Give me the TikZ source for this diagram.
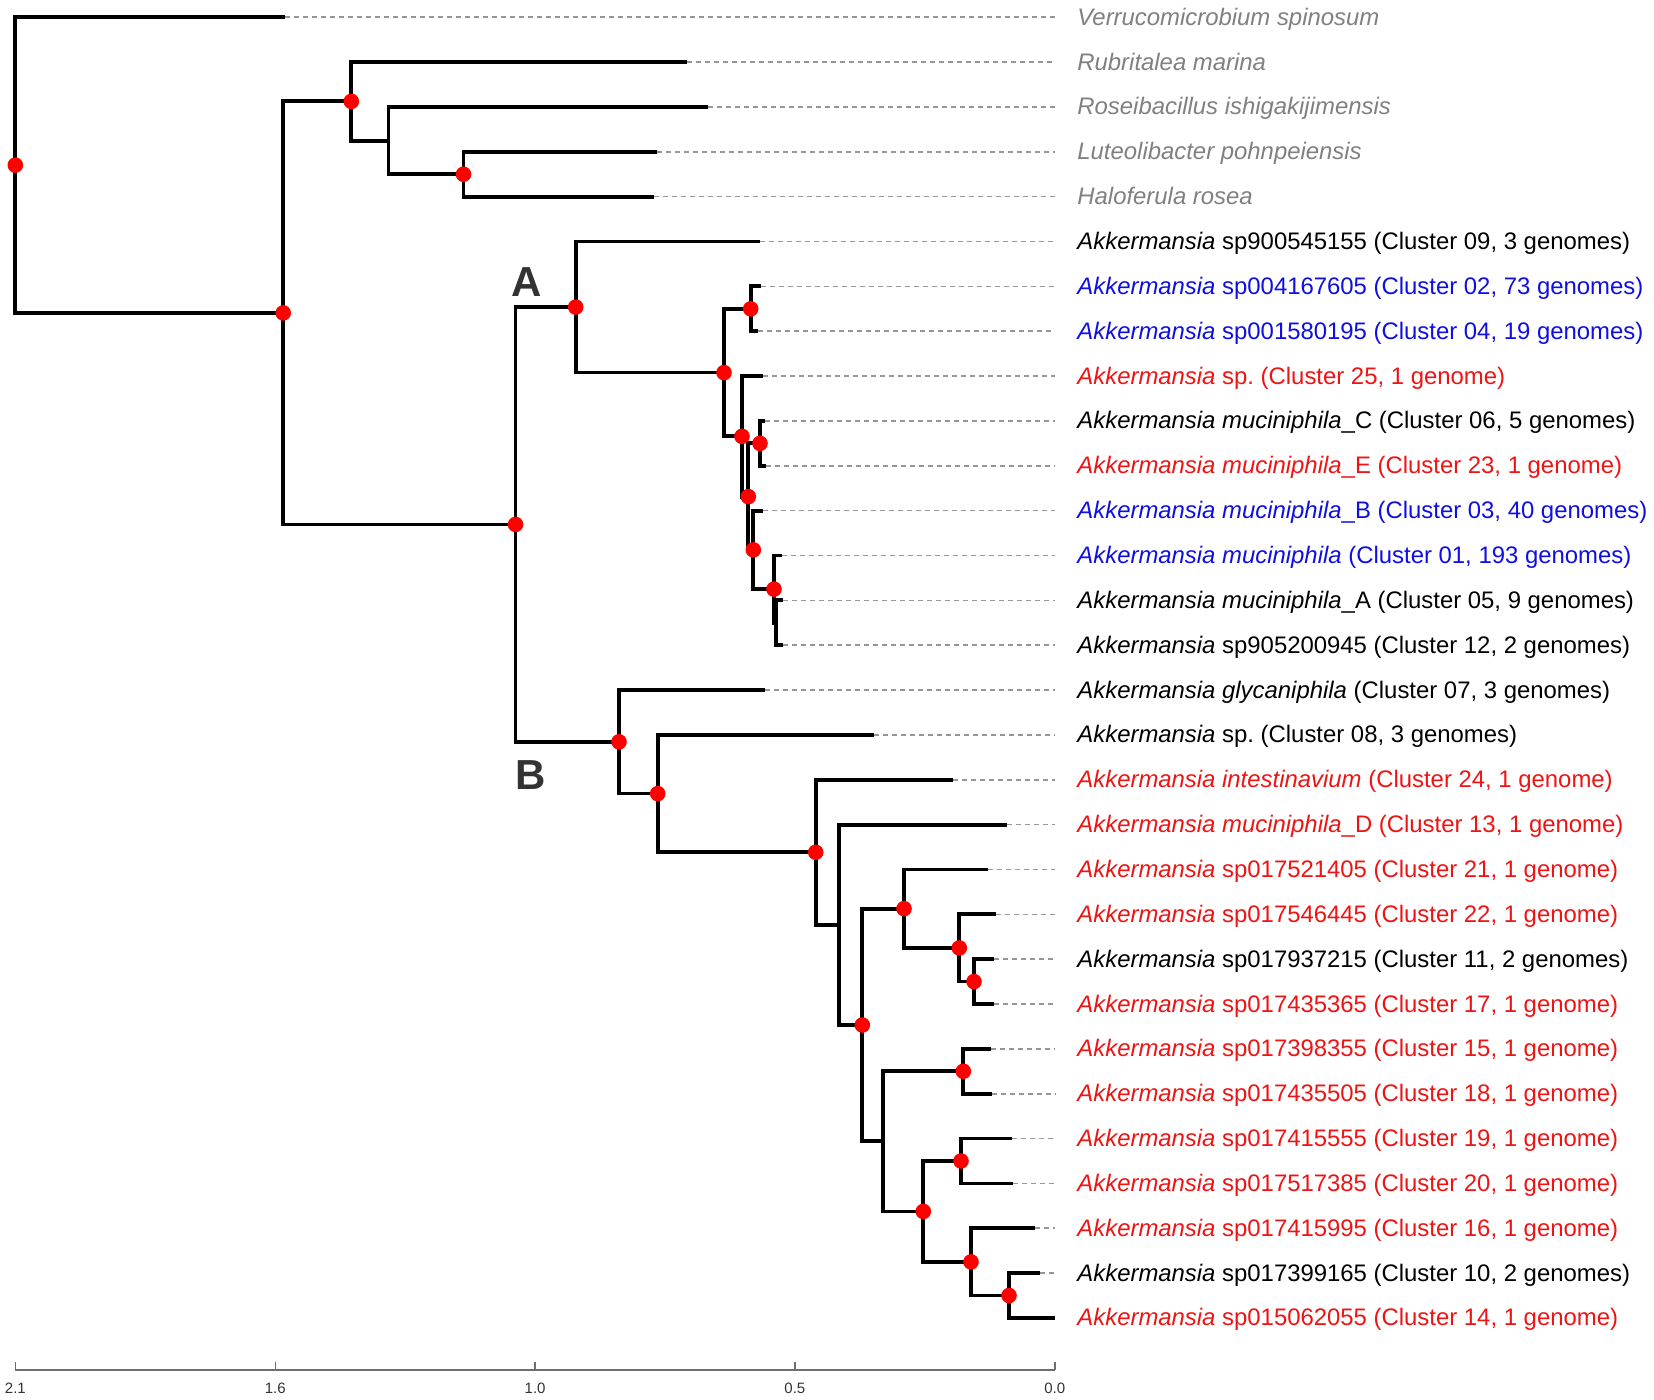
\documentclass[tikz,border=0pt]{standalone}
\usepackage{fontspec}
\setmainfont{Liberation Sans}
\frenchspacing
\definecolor{outg}{RGB}{128,128,128}
\definecolor{bl}{RGB}{15,15,225}
\definecolor{rd}{RGB}{238,20,20}
\definecolor{dashc}{RGB}{150,150,150}
\definecolor{abc}{RGB}{51,51,51}
\definecolor{axc}{RGB}{110,110,110}
\begin{document}
\begin{tikzpicture}[x=0.5pt,y=-0.5pt,
  branch/.style={line width=1.9pt, black, line join=miter},
  dashl/.style={dashc, line width=0.8pt, dash pattern=on 2.5pt off 2pt},
  dot/.style={circle, fill=red, draw=none, inner sep=0pt, minimum size=7.8pt},
  lab/.style={anchor=base west, inner sep=0pt, font=\fontsize{11.95}{14}\selectfont},
  cladelab/.style={font=\fontsize{21}{21}\bfseries\selectfont, text=abc, inner sep=0pt},
  ticklab/.style={font=\fontsize{7.5}{8}\selectfont, text=abc, inner sep=0pt},
  axisline/.style={axc, line width=0.75pt}]
\useasboundingbox (0,0) rectangle (1654,1400);

% leaves
\coordinate (l0) at (285.1,17.3);
\coordinate (l1) at (686.7,62.15);
\coordinate (l2) at (707.7,107.0);
\coordinate (l3) at (656.5,151.85);
\coordinate (l4) at (653.5,196.7);
\coordinate (l5) at (760,241.55);
\coordinate (l6) at (760.7,286.4);
\coordinate (l7) at (758.3,331.25);
\coordinate (l8) at (763.3,376.1);
\coordinate (l9) at (765,420.95);
\coordinate (l10) at (766,465.8);
\coordinate (l11) at (763,510.65);
\coordinate (l12) at (781.7,555.5);
\coordinate (l13) at (783,600.35);
\coordinate (l14) at (783,645.2);
\coordinate (l15) at (765,690.05);
\coordinate (l16) at (874,734.9);
\coordinate (l17) at (953.3,779.75);
\coordinate (l18) at (1007.3,824.6);
\coordinate (l19) at (988.3,869.45);
\coordinate (l20) at (996,914.3);
\coordinate (l21) at (994,959.15);
\coordinate (l22) at (994,1004.0);
\coordinate (l23) at (990.7,1048.85);
\coordinate (l24) at (991.7,1093.7);
\coordinate (l25) at (1012.3,1138.55);
\coordinate (l26) at (1013.3,1183.4);
\coordinate (l27) at (1035,1228.25);
\coordinate (l28) at (1040,1273.1);
\coordinate (l29) at (1055,1317.95);

% internal nodes
\coordinate (root) at (15.3,165.11);
\coordinate (N1) at (283.2,312.92);
\coordinate (N2) at (351.3,101.39);
\coordinate (N3) at (388.4,140.64);
\coordinate (N4) at (463.5,174.28);
\coordinate (N5) at (515.5,524.45);
\coordinate (NA) at (575.7,307.07);
\coordinate (NA2) at (724,372.6);
\coordinate (NA3) at (750.7,308.83);
\coordinate (NA4) at (742,436.37);
\coordinate (NA5) at (748.3,496.63);
\coordinate (CE) at (760,443.38);
\coordinate (NA6) at (753.3,549.89);
\coordinate (NA7) at (774,589.14);
\coordinate (NA8) at (776,622.78);
\coordinate (NB) at (619,741.82);
\coordinate (NB2) at (657.7,793.59);
\coordinate (NB3) at (815.7,852.28);
\coordinate (NB4) at (838.7,924.81);
\coordinate (NB5) at (862.3,1025.02);
\coordinate (NB6) at (904,908.69);
\coordinate (NB7) at (959.3,947.94);
\coordinate (NB8) at (974,981.58);
\coordinate (NB9) at (883.3,1141.35);
\coordinate (NB10) at (963.3,1071.28);
\coordinate (NB11) at (923.3,1211.43);
\coordinate (NB12) at (961,1160.98);
\coordinate (NB13) at (971,1261.89);
\coordinate (NB14) at (1009,1295.53);

\coordinate (dend) at (1055,0);
\coordinate (labx) at (1077,0);

% dashed leaf extensions
\foreach \i in {0,...,29} {\draw[dashl] (l\i) -- (l\i -| dend);}

% branches
\draw[branch] (root) |- (l0);
\draw[branch] (root) |- (N1);
\draw[branch] (N1) |- (N2);
\draw[branch] (N1) |- (N5);
\draw[branch] (N2) |- (l1);
\draw[branch] (N2) |- (N3);
\draw[branch] (N3) |- (l2);
\draw[branch] (N3) |- (N4);
\draw[branch] (N4) |- (l3);
\draw[branch] (N4) |- (l4);
\draw[branch] (N5) |- (NA);
\draw[branch] (N5) |- (NB);
\draw[branch] (NA) |- (l5);
\draw[branch] (NA) |- (NA2);
\draw[branch] (NA2) |- (NA3);
\draw[branch] (NA2) |- (NA4);
\draw[branch] (NA3) |- (l6);
\draw[branch] (NA3) |- (l7);
\draw[branch] (NA4) |- (l8);
\draw[branch] (NA4) |- (NA5);
\draw[branch] (NA5) |- (CE);
\draw[branch] (NA5) |- (NA6);
\draw[branch] (CE) |- (l9);
\draw[branch] (CE) |- (l10);
\draw[branch] (NA6) |- (l11);
\draw[branch] (NA6) |- (NA7);
\draw[branch] (NA7) |- (l12);
\draw[branch] (NA7) |- (NA8);
\draw[branch] (NA8) |- (l13);
\draw[branch] (NA8) |- (l14);
\draw[branch] (NB) |- (l15);
\draw[branch] (NB) |- (NB2);
\draw[branch] (NB2) |- (l16);
\draw[branch] (NB2) |- (NB3);
\draw[branch] (NB3) |- (l17);
\draw[branch] (NB3) |- (NB4);
\draw[branch] (NB4) |- (l18);
\draw[branch] (NB4) |- (NB5);
\draw[branch] (NB5) |- (NB6);
\draw[branch] (NB5) |- (NB9);
\draw[branch] (NB6) |- (l19);
\draw[branch] (NB6) |- (NB7);
\draw[branch] (NB7) |- (l20);
\draw[branch] (NB7) |- (NB8);
\draw[branch] (NB8) |- (l21);
\draw[branch] (NB8) |- (l22);
\draw[branch] (NB9) |- (NB10);
\draw[branch] (NB9) |- (NB11);
\draw[branch] (NB10) |- (l23);
\draw[branch] (NB10) |- (l24);
\draw[branch] (NB11) |- (NB12);
\draw[branch] (NB11) |- (NB13);
\draw[branch] (NB12) |- (l25);
\draw[branch] (NB12) |- (l26);
\draw[branch] (NB13) |- (l27);
\draw[branch] (NB13) |- (NB14);
\draw[branch] (NB14) |- (l28);
\draw[branch] (NB14) |- (l29);

% support dots
\foreach \n in {root,N1,N2,N4,N5,NA,NA2,NA3,NA4,CE,NA5,NA6,NA7,NB,NB2,NB3,NB5,NB6,NB7,NB8,NB10,NB11,NB12,NB13,NB14}
  {\node[dot] (dot-\n) at (\n) {};}

% clade labels
\node[cladelab] (labA) at (526.7,281.7) {A};
\node[cladelab] (labB) at (530.6,775.3) {B};

% leaf labels
\node[lab, text=outg] (t0) at ([yshift=-4pt]l0 -| labx) {\textit{Verrucomicrobium spinosum}};
\node[lab, text=outg] (t1) at ([yshift=-4pt]l1 -| labx) {\textit{Rubritalea marina}};
\node[lab, text=outg] (t2) at ([yshift=-4pt]l2 -| labx) {\textit{Roseibacillus ishigakijimensis}};
\node[lab, text=outg] (t3) at ([yshift=-4pt]l3 -| labx) {\textit{Luteolibacter pohnpeiensis}};
\node[lab, text=outg] (t4) at ([yshift=-4pt]l4 -| labx) {\textit{Haloferula rosea}};
\node[lab, text=black] (t5) at ([yshift=-4pt]l5 -| labx) {\textit{Akkermansia} sp900545155 (Cluster 09, 3 genomes)};
\node[lab, text=bl] (t6) at ([yshift=-4pt]l6 -| labx) {\textit{Akkermansia} sp004167605 (Cluster 02, 73 genomes)};
\node[lab, text=bl] (t7) at ([yshift=-4pt]l7 -| labx) {\textit{Akkermansia} sp001580195 (Cluster 04, 19 genomes)};
\node[lab, text=rd] (t8) at ([yshift=-4pt]l8 -| labx) {\textit{Akkermansia} sp. (Cluster 25, 1 genome)};
\node[lab, text=black] (t9) at ([yshift=-4pt]l9 -| labx) {\textit{Akkermansia muciniphila}\_C (Cluster 06, 5 genomes)};
\node[lab, text=rd] (t10) at ([yshift=-4pt]l10 -| labx) {\textit{Akkermansia muciniphila}\_E (Cluster 23, 1 genome)};
\node[lab, text=bl] (t11) at ([yshift=-4pt]l11 -| labx) {\textit{Akkermansia muciniphila}\_B (Cluster 03, 40 genomes)};
\node[lab, text=bl] (t12) at ([yshift=-4pt]l12 -| labx) {\textit{Akkermansia muciniphila} (Cluster 01, 193 genomes)};
\node[lab, text=black] (t13) at ([yshift=-4pt]l13 -| labx) {\textit{Akkermansia muciniphila}\_A (Cluster 05, 9 genomes)};
\node[lab, text=black] (t14) at ([yshift=-4pt]l14 -| labx) {\textit{Akkermansia} sp905200945 (Cluster 12, 2 genomes)};
\node[lab, text=black] (t15) at ([yshift=-4pt]l15 -| labx) {\textit{Akkermansia glycaniphila} (Cluster 07, 3 genomes)};
\node[lab, text=black] (t16) at ([yshift=-4pt]l16 -| labx) {\textit{Akkermansia} sp. (Cluster 08, 3 genomes)};
\node[lab, text=rd] (t17) at ([yshift=-4pt]l17 -| labx) {\textit{Akkermansia intestinavium} (Cluster 24, 1 genome)};
\node[lab, text=rd] (t18) at ([yshift=-4pt]l18 -| labx) {\textit{Akkermansia muciniphila}\_D (Cluster 13, 1 genome)};
\node[lab, text=rd] (t19) at ([yshift=-4pt]l19 -| labx) {\textit{Akkermansia} sp017521405 (Cluster 21, 1 genome)};
\node[lab, text=rd] (t20) at ([yshift=-4pt]l20 -| labx) {\textit{Akkermansia} sp017546445 (Cluster 22, 1 genome)};
\node[lab, text=black] (t21) at ([yshift=-4pt]l21 -| labx) {\textit{Akkermansia} sp017937215 (Cluster 11, 2 genomes)};
\node[lab, text=rd] (t22) at ([yshift=-4pt]l22 -| labx) {\textit{Akkermansia} sp017435365 (Cluster 17, 1 genome)};
\node[lab, text=rd] (t23) at ([yshift=-4pt]l23 -| labx) {\textit{Akkermansia} sp017398355 (Cluster 15, 1 genome)};
\node[lab, text=rd] (t24) at ([yshift=-4pt]l24 -| labx) {\textit{Akkermansia} sp017435505 (Cluster 18, 1 genome)};
\node[lab, text=rd] (t25) at ([yshift=-4pt]l25 -| labx) {\textit{Akkermansia} sp017415555 (Cluster 19, 1 genome)};
\node[lab, text=rd] (t26) at ([yshift=-4pt]l26 -| labx) {\textit{Akkermansia} sp017517385 (Cluster 20, 1 genome)};
\node[lab, text=rd] (t27) at ([yshift=-4pt]l27 -| labx) {\textit{Akkermansia} sp017415995 (Cluster 16, 1 genome)};
\node[lab, text=black] (t28) at ([yshift=-4pt]l28 -| labx) {\textit{Akkermansia} sp017399165 (Cluster 10, 2 genomes)};
\node[lab, text=rd] (t29) at ([yshift=-4pt]l29 -| labx) {\textit{Akkermansia} sp015062055 (Cluster 14, 1 genome)};

% axis
\coordinate (ax0) at (15.4,1370);
\coordinate (ax1) at (275.3,1370);
\coordinate (ax2) at (535.1,1370);
\coordinate (ax3) at (794.9,1370);
\coordinate (ax4) at (1054.8,1370);
\draw[axisline] (ax0) -- (ax4);
\foreach \k/\v in {0/2.1,1/1.6,2/1.0,3/0.5,4/0.0} {
  \draw[axisline] (ax\k) -- ++(0,-8);
  \node[ticklab] (tl\k) at ([yshift=-9pt]ax\k) {\v};
}
\end{tikzpicture}
\end{document}
